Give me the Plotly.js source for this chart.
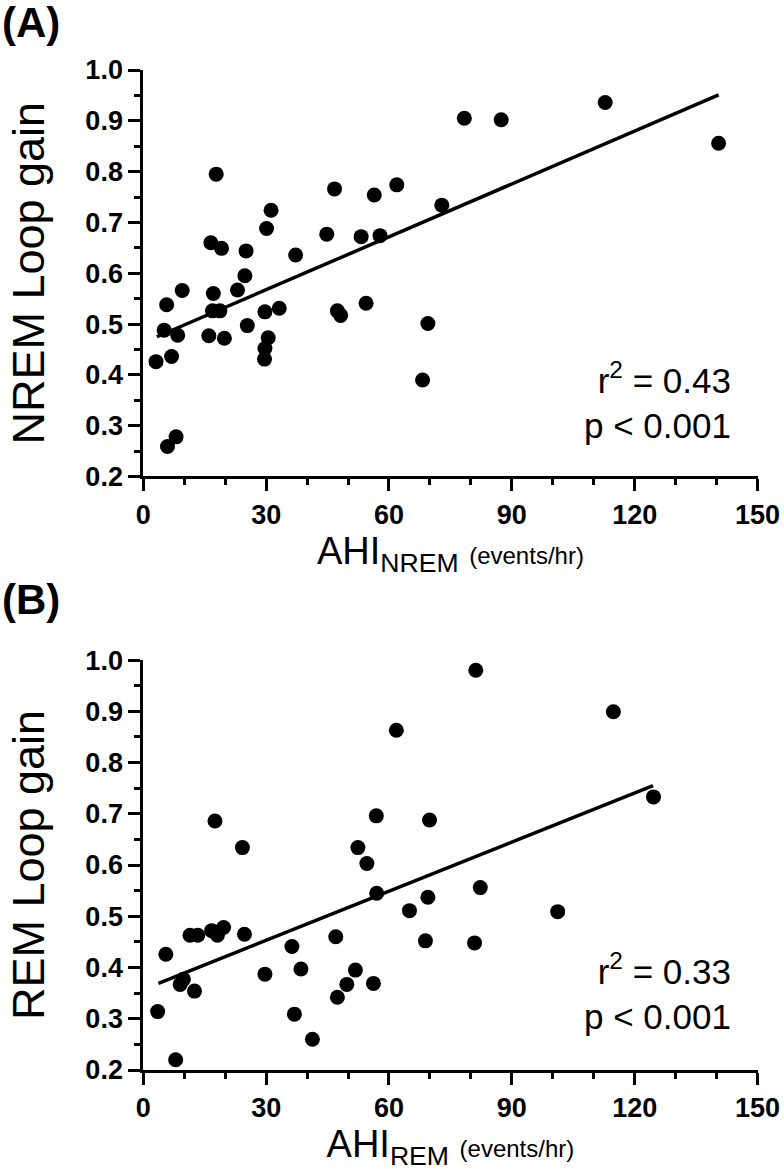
<!DOCTYPE html>
<html>
<head>
<meta charset="utf-8">
<script src="https://cdn.plot.ly/plotly-3.0.1.min.js"></script>
<style>html,body{margin:0;padding:0;background:#fff;}#chart{width:784px;height:1173px;}</style>
</head>
<body>
<div id="chart"></div>
<script>
// Panel A: NREM
const nremAHI = [3.1,5.1,5.7,6.9,8.4,9.5,5.9,8.0,17.8,16.5,19.1,17.1,16.9,18.7,16.0,19.8,25.1,24.8,23.0,25.4,31.2,30.1,29.7,33.2,30.5,29.7,29.6,37.2,44.8,46.7,47.4,48.2,53.2,54.4,56.4,57.8,61.9,68.2,69.5,72.9,78.4,87.4,112.8,140.5];
const nremLoopGain = [0.426,0.488,0.538,0.436,0.478,0.566,0.259,0.278,0.795,0.660,0.649,0.560,0.526,0.526,0.477,0.472,0.644,0.595,0.567,0.497,0.724,0.688,0.524,0.531,0.473,0.452,0.431,0.636,0.677,0.766,0.526,0.517,0.672,0.541,0.754,0.674,0.774,0.390,0.501,0.734,0.905,0.902,0.936,0.856];
const nremFitX = [3.3, 140.5];
const nremFitY = [0.475, 0.951];

// Panel B: REM
const remAHI = [3.5,5.5,7.9,9.0,9.8,12.5,11.4,13.3,16.7,18.1,19.6,17.5,24.2,24.7,29.7,36.3,36.9,38.5,41.3,47.0,47.4,49.7,51.8,52.4,54.6,56.2,56.9,57.0,61.8,65.0,68.9,69.5,69.9,81.2,114.8,124.6,82.3,101.2,80.9];
const remLoopGain = [0.314,0.426,0.220,0.367,0.377,0.354,0.463,0.463,0.472,0.463,0.478,0.686,0.634,0.465,0.387,0.441,0.309,0.397,0.260,0.460,0.342,0.367,0.395,0.634,0.603,0.369,0.696,0.545,0.863,0.511,0.452,0.537,0.688,0.980,0.899,0.733,0.556,0.509,0.448];
const remFitX = [3.7, 124.5];
const remFitY = [0.369, 0.755];

const xTickVals = [0, 30, 60, 90, 120, 150];
const yTickVals = [0.2, 0.3, 0.4, 0.5, 0.6, 0.7, 0.8, 0.9, 1.0];
const yTickText = ['0.2','0.3','0.4','0.5','0.6','0.7','0.8','0.9','1.0'];

const panelLabels = ['(A)', '(B)'];
const statsA = 'r<sup>2</sup> = 0.43<br>p < 0.001';
const statsB = 'r<sup>2</sup> = 0.33<br>p < 0.001';

const FONT = 'Liberation Sans, Arial, sans-serif';

const traces = [
  {x: nremAHI, y: nremLoopGain, type: 'scatter', mode: 'markers', xaxis: 'x', yaxis: 'y',
   marker: {size: 15, color: '#000'}, cliponaxis: false, showlegend: false},
  {x: nremFitX, y: nremFitY, type: 'scatter', mode: 'lines', xaxis: 'x', yaxis: 'y',
   line: {color: '#000', width: 3.5}, showlegend: false},
  {x: remAHI, y: remLoopGain, type: 'scatter', mode: 'markers', xaxis: 'x2', yaxis: 'y2',
   marker: {size: 15, color: '#000'}, cliponaxis: false, showlegend: false},
  {x: remFitX, y: remFitY, type: 'scatter', mode: 'lines', xaxis: 'x2', yaxis: 'y2',
   line: {color: '#000', width: 3.5}, showlegend: false}
];

function xAxis(anchor, label) {
  return {
    domain: [0.1828, 0.9662], anchor: anchor, range: [0, 150],
    showgrid: false, zeroline: false, showline: true, linewidth: 3, linecolor: '#000',
    ticks: 'outside', ticklen: 12, tickwidth: 3, tickcolor: '#000',
    tickvals: xTickVals, ticktext: xTickVals.map(String),
    tickfont: {family: FONT, size: 27, color: '#000', weight: 'bold'},
    minor: {ticks: 'outside', ticklen: 6, tickwidth: 3, tickcolor: '#000', dtick: 10, tick0: 0},
    title: {text: label, font: {family: FONT, size: 38, color: '#000'}, standoff: 1},
    automargin: false, fixedrange: true
  };
}
function yAxis(anchor, domain, label) {
  return {
    domain: domain, anchor: anchor, range: [0.2, 1.0],
    showgrid: false, zeroline: false, showline: true, linewidth: 3, linecolor: '#000',
    ticks: 'outside', ticklen: 12, tickwidth: 3, tickcolor: '#000',
    tickvals: yTickVals, ticktext: yTickText,
    tickfont: {family: FONT, size: 27, color: '#000', weight: 'bold'},
    minor: {ticks: 'outside', ticklen: 6, tickwidth: 3, tickcolor: '#000', dtick: 0.05, tick0: 0.2},
    title: {text: label, font: {family: FONT, size: 45, color: '#000'}, standoff: 27},
    automargin: false, fixedrange: true
  };
}

const annFont = {family: FONT, size: 35, color: '#000'};
const layout = {
  width: 784, height: 1173,
  margin: {l: 0, r: 0, t: 0, b: 0},
  paper_bgcolor: '#fff', plot_bgcolor: '#fff',
  showlegend: false,
  xaxis: xAxis('y', 'AHI<sub>NREM</sub> <span style="font-size:24px">(events/hr)</span>'),
  yaxis: yAxis('x', [0.5938, 0.9403], 'NREM Loop gain'),
  xaxis2: xAxis('y2', 'AHI<sub>REM</sub> <span style="font-size:24px">(events/hr)</span>'),
  yaxis2: yAxis('x2', [0.0878, 0.4373], 'REM Loop gain'),
  annotations: [
    {text: panelLabels[0], xref: 'paper', yref: 'paper', x: 0, y: 0.9812, xanchor: 'left', yanchor: 'middle',
     showarrow: false, font: {family: FONT, size: 42, color: '#000', weight: 'bold'}},
    {text: panelLabels[1], xref: 'paper', yref: 'paper', x: 0, y: 0.4885, xanchor: 'left', yanchor: 'middle',
     showarrow: false, font: {family: FONT, size: 42, color: '#000', weight: 'bold'}},
    {text: statsA, xref: 'paper', yref: 'paper', x: 0.935, y: 0.6585, xanchor: 'right', yanchor: 'middle',
     align: 'right', showarrow: false, font: annFont},
    {text: statsB, xref: 'paper', yref: 'paper', x: 0.935, y: 0.1550, xanchor: 'right', yanchor: 'middle',
     align: 'right', showarrow: false, font: annFont}
  ]
};

Plotly.newPlot('chart', traces, layout, {displayModeBar: false, staticPlot: true});
</script>
</body>
</html>
